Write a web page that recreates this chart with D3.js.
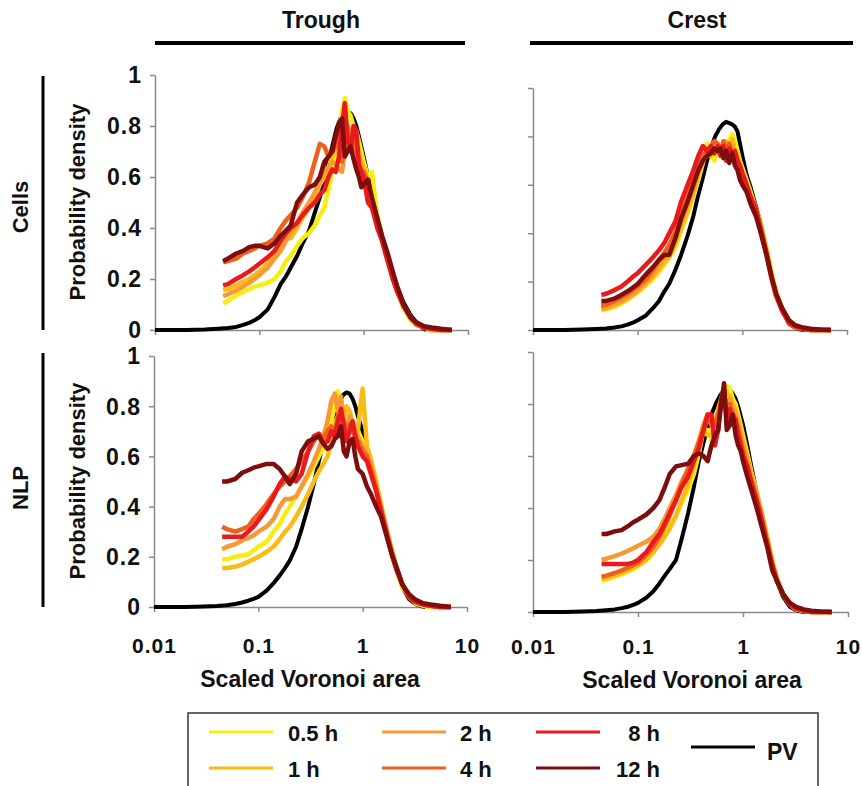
<!DOCTYPE html>
<html>
<head>
<meta charset="utf-8">
<script src="https://cdn.jsdelivr.net/npm/d3@7"></script>
<style>
  body { margin: 0; background: #fff; }
  text { font-family: "Liberation Sans", Arial, sans-serif; font-weight: bold; fill: #111; }
</style>
</head>
<body>
<div id="chart"></div>
<script>
// x positions shared by the six time series (scaled Voronoi area)
var xGrid = [0.045, 0.05, 0.06, 0.07, 0.08, 0.09, 0.1, 0.12, 0.14, 0.16, 0.18, 0.2, 0.23, 0.26, 0.3, 0.34, 0.38, 0.42, 0.46, 0.5,
  0.54, 0.58, 0.62, 0.66, 0.7, 0.75, 0.8, 0.85, 0.9, 0.95, 1.0, 1.1, 1.2, 1.35, 1.5, 1.7, 1.9, 2.1, 2.4, 2.8, 3.2, 3.8, 4.5, 5.5, 7.0];
// x positions of the PV (Poisson-Voronoi) reference curve
var pvGrid = [0.01, 0.02, 0.03, 0.04, 0.05, 0.06, 0.07, 0.08, 0.09, 0.1, 0.12, 0.14, 0.16, 0.18, 0.2, 0.23, 0.26, 0.3, 0.34, 0.38,
  0.42, 0.46, 0.5, 0.55, 0.6, 0.65, 0.7, 0.75, 0.8, 0.85, 0.9, 1.0, 1.1, 1.2, 1.35, 1.5, 1.7, 1.9, 2.1, 2.4, 2.8, 3.2, 3.6, 4.0];

// Trough / Cells
var tcPV = [0, 0, 0.002, 0.005, 0.008, 0.012, 0.02, 0.028, 0.038, 0.05, 0.08, 0.13, 0.18, 0.21, 0.245, 0.29, 0.34, 0.39, 0.46, 0.52, 0.59, 0.66, 0.72, 0.79, 0.83, 0.85, 0.855, 0.85, 0.83, 0.8, 0.76, 0.68, 0.6, 0.53, 0.44, 0.36, 0.28, 0.22, 0.17, 0.11, 0.06, 0.03, 0.01, 0];
var tc05 = [0.105, 0.115, 0.135, 0.15, 0.16, 0.17, 0.175, 0.185, 0.2, 0.23, 0.27, 0.29, 0.33, 0.36, 0.38, 0.41, 0.45, 0.48, 0.55, 0.62, 0.7, 0.78, 0.86, 0.91, 0.86, 0.84, 0.8, 0.78, 0.74, 0.7, 0.66, 0.6, 0.62, 0.45, 0.37, 0.28, 0.21, 0.15, 0.09, 0.04, 0.02, 0.01, 0, 0, 0];
var tc1 = [0.157, 0.16, 0.175, 0.19, 0.2, 0.215, 0.23, 0.26, 0.3, 0.33, 0.36, 0.36, 0.4, 0.44, 0.48, 0.52, 0.57, 0.6, 0.64, 0.68, 0.7, 0.74, 0.82, 0.85, 0.8, 0.78, 0.76, 0.74, 0.7, 0.66, 0.64, 0.58, 0.5, 0.42, 0.35, 0.27, 0.2, 0.15, 0.09, 0.05, 0.02, 0.01, 0, 0, 0];
var tc2 = [0.133, 0.14, 0.155, 0.17, 0.185, 0.2, 0.215, 0.245, 0.28, 0.31, 0.35, 0.38, 0.42, 0.46, 0.5, 0.54, 0.58, 0.62, 0.64, 0.66, 0.65, 0.63, 0.62, 0.7, 0.79, 0.74, 0.76, 0.72, 0.68, 0.64, 0.62, 0.56, 0.5, 0.42, 0.35, 0.27, 0.21, 0.15, 0.09, 0.05, 0.02, 0.01, 0, 0, 0];
var tc4 = [0.265, 0.27, 0.28, 0.3, 0.31, 0.32, 0.33, 0.34, 0.36, 0.4, 0.43, 0.45, 0.48, 0.52, 0.58, 0.66, 0.73, 0.72, 0.68, 0.7, 0.72, 0.78, 0.66, 0.75, 0.8, 0.7, 0.76, 0.7, 0.65, 0.6, 0.62, 0.58, 0.5, 0.43, 0.36, 0.28, 0.22, 0.16, 0.1, 0.05, 0.025, 0.01, 0.005, 0, 0];
var tc8 = [0.175, 0.18, 0.2, 0.215, 0.23, 0.245, 0.26, 0.285, 0.31, 0.35, 0.38, 0.4, 0.42, 0.45, 0.48, 0.5, 0.53, 0.55, 0.6, 0.63, 0.62, 0.68, 0.8, 0.89, 0.75, 0.7, 0.8, 0.78, 0.65, 0.62, 0.6, 0.5, 0.48, 0.4, 0.35, 0.27, 0.2, 0.15, 0.1, 0.05, 0.025, 0.01, 0.005, 0, 0];
var tc12 = [0.27, 0.28, 0.3, 0.31, 0.325, 0.33, 0.33, 0.32, 0.34, 0.37, 0.39, 0.41, 0.5, 0.53, 0.56, 0.57, 0.6, 0.66, 0.68, 0.7, 0.76, 0.81, 0.83, 0.68, 0.7, 0.72, 0.67, 0.63, 0.6, 0.56, 0.57, 0.59, 0.52, 0.44, 0.37, 0.3, 0.23, 0.17, 0.1, 0.05, 0.03, 0.015, 0.01, 0.005, 0];

// Crest / Cells
var ccPV = [0, 0, 0.002, 0.004, 0.006, 0.01, 0.015, 0.022, 0.03, 0.04, 0.06, 0.09, 0.12, 0.16, 0.19, 0.25, 0.31, 0.39, 0.47, 0.56, 0.63, 0.7, 0.75, 0.8, 0.83, 0.85, 0.86, 0.855, 0.85, 0.84, 0.82, 0.72, 0.64, 0.59, 0.51, 0.44, 0.33, 0.23, 0.15, 0.08, 0.025, 0.008, 0.002, 0];
var cc05 = [0.08, 0.085, 0.095, 0.11, 0.125, 0.14, 0.155, 0.185, 0.21, 0.24, 0.27, 0.3, 0.34, 0.41, 0.48, 0.55, 0.62, 0.69, 0.77, 0.72, 0.7, 0.74, 0.72, 0.75, 0.76, 0.78, 0.81, 0.78, 0.74, 0.7, 0.67, 0.62, 0.57, 0.5, 0.44, 0.34, 0.24, 0.16, 0.09, 0.04, 0.015, 0.005, 0, 0, 0];
var cc1 = [0.085, 0.09, 0.1, 0.115, 0.13, 0.145, 0.16, 0.19, 0.22, 0.25, 0.28, 0.3, 0.36, 0.42, 0.49, 0.56, 0.64, 0.7, 0.73, 0.72, 0.75, 0.74, 0.72, 0.76, 0.78, 0.76, 0.79, 0.74, 0.72, 0.68, 0.65, 0.6, 0.56, 0.5, 0.43, 0.33, 0.23, 0.15, 0.08, 0.03, 0.01, 0.005, 0, 0, 0];
var cc2 = [0.09, 0.095, 0.11, 0.12, 0.135, 0.15, 0.165, 0.2, 0.23, 0.27, 0.3, 0.33, 0.39, 0.45, 0.52, 0.58, 0.65, 0.7, 0.72, 0.74, 0.73, 0.76, 0.73, 0.75, 0.77, 0.74, 0.76, 0.72, 0.7, 0.66, 0.63, 0.59, 0.55, 0.49, 0.42, 0.32, 0.22, 0.14, 0.08, 0.03, 0.01, 0.005, 0, 0, 0];
var cc4 = [0.1, 0.105, 0.12, 0.135, 0.15, 0.165, 0.18, 0.21, 0.25, 0.29, 0.32, 0.35, 0.41, 0.48, 0.55, 0.62, 0.68, 0.72, 0.74, 0.76, 0.78, 0.77, 0.74, 0.78, 0.74, 0.77, 0.72, 0.7, 0.68, 0.64, 0.62, 0.58, 0.54, 0.48, 0.41, 0.31, 0.21, 0.14, 0.08, 0.03, 0.015, 0.005, 0, 0, 0];
var cc8 = [0.145, 0.15, 0.165, 0.18, 0.2, 0.22, 0.235, 0.27, 0.3, 0.33, 0.36, 0.4, 0.45, 0.53, 0.6, 0.66, 0.72, 0.76, 0.74, 0.76, 0.73, 0.76, 0.72, 0.76, 0.7, 0.75, 0.73, 0.74, 0.7, 0.68, 0.65, 0.6, 0.55, 0.5, 0.42, 0.32, 0.22, 0.15, 0.08, 0.03, 0.015, 0.005, 0, 0, 0];
var cc12 = [0.12, 0.12, 0.13, 0.145, 0.16, 0.175, 0.19, 0.23, 0.26, 0.29, 0.31, 0.31, 0.38, 0.46, 0.53, 0.6, 0.66, 0.7, 0.72, 0.73, 0.75, 0.74, 0.75, 0.71, 0.74, 0.69, 0.73, 0.68, 0.66, 0.62, 0.6, 0.57, 0.52, 0.47, 0.4, 0.31, 0.22, 0.15, 0.09, 0.04, 0.02, 0.01, 0.005, 0.002, 0];

// Trough / NLP
var tnPV = [0, 0, 0.002, 0.004, 0.007, 0.012, 0.018, 0.025, 0.032, 0.04, 0.065, 0.095, 0.125, 0.155, 0.185, 0.24, 0.31, 0.4, 0.49, 0.58, 0.65, 0.7, 0.74, 0.78, 0.82, 0.845, 0.855, 0.85, 0.83, 0.8, 0.76, 0.7, 0.63, 0.57, 0.47, 0.39, 0.3, 0.21, 0.15, 0.08, 0.03, 0.012, 0.004, 0];
var tn05 = [0.19, 0.19, 0.2, 0.205, 0.21, 0.225, 0.24, 0.26, 0.3, 0.33, 0.37, 0.4, 0.44, 0.48, 0.52, 0.56, 0.6, 0.63, 0.68, 0.74, 0.8, 0.86, 0.8, 0.78, 0.78, 0.76, 0.74, 0.72, 0.7, 0.68, 0.66, 0.62, 0.57, 0.48, 0.39, 0.3, 0.21, 0.15, 0.08, 0.04, 0.015, 0.005, 0, 0, 0];
var tn1 = [0.155, 0.155, 0.16, 0.17, 0.18, 0.19, 0.2, 0.22, 0.24, 0.27, 0.3, 0.32, 0.36, 0.4, 0.45, 0.5, 0.54, 0.57, 0.6, 0.65, 0.72, 0.76, 0.7, 0.75, 0.8, 0.78, 0.74, 0.72, 0.7, 0.8, 0.87, 0.64, 0.59, 0.5, 0.41, 0.31, 0.23, 0.16, 0.09, 0.04, 0.02, 0.01, 0.005, 0, 0];
var tn2 = [0.23, 0.24, 0.25, 0.265, 0.275, 0.285, 0.3, 0.32, 0.35, 0.4, 0.43, 0.43, 0.44, 0.48, 0.53, 0.58, 0.63, 0.68, 0.74, 0.82, 0.85, 0.78, 0.84, 0.74, 0.72, 0.76, 0.72, 0.7, 0.68, 0.66, 0.64, 0.61, 0.56, 0.47, 0.39, 0.3, 0.22, 0.16, 0.09, 0.04, 0.02, 0.01, 0.005, 0, 0];
var tn4 = [0.32, 0.31, 0.3, 0.31, 0.32, 0.35, 0.37, 0.41, 0.45, 0.48, 0.5, 0.52, 0.55, 0.58, 0.62, 0.66, 0.69, 0.67, 0.7, 0.72, 0.69, 0.76, 0.7, 0.74, 0.7, 0.73, 0.7, 0.68, 0.66, 0.64, 0.62, 0.6, 0.55, 0.47, 0.39, 0.3, 0.22, 0.16, 0.09, 0.04, 0.02, 0.01, 0.005, 0, 0];
var tn8 = [0.28, 0.28, 0.28, 0.28, 0.3, 0.32, 0.345, 0.39, 0.44, 0.49, 0.52, 0.51, 0.5, 0.53, 0.62, 0.68, 0.69, 0.65, 0.66, 0.7, 0.68, 0.74, 0.79, 0.72, 0.66, 0.7, 0.74, 0.68, 0.64, 0.62, 0.6, 0.58, 0.53, 0.46, 0.38, 0.29, 0.21, 0.15, 0.09, 0.04, 0.02, 0.01, 0.005, 0, 0];
var tn12 = [0.5, 0.5, 0.51, 0.535, 0.545, 0.555, 0.56, 0.57, 0.57, 0.55, 0.52, 0.49, 0.53, 0.62, 0.66, 0.67, 0.68, 0.65, 0.63, 0.64, 0.67, 0.68, 0.72, 0.62, 0.6, 0.66, 0.67, 0.6, 0.55, 0.54, 0.53, 0.48, 0.45, 0.4, 0.36, 0.28, 0.21, 0.16, 0.09, 0.05, 0.03, 0.015, 0.01, 0.005, 0];

// Crest / NLP
var cnPV = [0, 0, 0.002, 0.004, 0.007, 0.01, 0.015, 0.02, 0.027, 0.035, 0.055, 0.08, 0.11, 0.14, 0.165, 0.2, 0.28, 0.38, 0.48, 0.58, 0.65, 0.71, 0.76, 0.8, 0.83, 0.85, 0.86, 0.855, 0.84, 0.82, 0.79, 0.72, 0.64, 0.56, 0.46, 0.38, 0.28, 0.19, 0.12, 0.06, 0.02, 0.007, 0.002, 0];
var cn05 = [0.12, 0.125, 0.135, 0.145, 0.155, 0.165, 0.175, 0.2, 0.23, 0.27, 0.3, 0.33, 0.37, 0.42, 0.47, 0.53, 0.61, 0.7, 0.7, 0.66, 0.7, 0.76, 0.8, 0.84, 0.87, 0.86, 0.82, 0.8, 0.76, 0.72, 0.68, 0.61, 0.54, 0.46, 0.39, 0.29, 0.2, 0.13, 0.07, 0.03, 0.01, 0.005, 0, 0, 0];
var cn1 = [0.128, 0.13, 0.14, 0.15, 0.16, 0.17, 0.18, 0.2, 0.23, 0.26, 0.29, 0.32, 0.37, 0.43, 0.49, 0.56, 0.64, 0.7, 0.68, 0.68, 0.73, 0.78, 0.82, 0.86, 0.84, 0.83, 0.8, 0.78, 0.74, 0.7, 0.66, 0.6, 0.53, 0.46, 0.38, 0.28, 0.19, 0.13, 0.07, 0.03, 0.01, 0.005, 0, 0, 0];
var cn2 = [0.2, 0.205, 0.215, 0.225, 0.235, 0.245, 0.255, 0.27, 0.29, 0.32, 0.36, 0.4, 0.45, 0.5, 0.55, 0.6, 0.66, 0.72, 0.76, 0.72, 0.7, 0.74, 0.8, 0.83, 0.8, 0.82, 0.78, 0.76, 0.72, 0.68, 0.64, 0.58, 0.52, 0.45, 0.38, 0.28, 0.19, 0.13, 0.07, 0.03, 0.01, 0.005, 0, 0, 0];
var cn4 = [0.135, 0.14, 0.15, 0.16, 0.17, 0.18, 0.19, 0.22, 0.25, 0.29, 0.33, 0.37, 0.43, 0.49, 0.55, 0.6, 0.65, 0.7, 0.74, 0.73, 0.72, 0.76, 0.8, 0.84, 0.78, 0.8, 0.76, 0.74, 0.7, 0.66, 0.62, 0.56, 0.5, 0.43, 0.36, 0.27, 0.18, 0.12, 0.07, 0.03, 0.01, 0.005, 0, 0, 0];
var cn8 = [0.185, 0.185, 0.185, 0.185, 0.185, 0.19, 0.2, 0.23, 0.27, 0.3, 0.34, 0.38, 0.43, 0.48, 0.52, 0.58, 0.63, 0.7, 0.76, 0.76, 0.64, 0.7, 0.82, 0.85, 0.74, 0.78, 0.72, 0.74, 0.68, 0.64, 0.6, 0.56, 0.5, 0.43, 0.36, 0.26, 0.18, 0.12, 0.07, 0.03, 0.015, 0.005, 0, 0, 0];
var cn12 = [0.3, 0.3, 0.31, 0.315, 0.33, 0.345, 0.355, 0.375, 0.4, 0.43, 0.48, 0.53, 0.56, 0.565, 0.57, 0.6, 0.61, 0.6, 0.58, 0.64, 0.68, 0.7, 0.8, 0.88, 0.7, 0.72, 0.76, 0.68, 0.64, 0.62, 0.58, 0.52, 0.47, 0.4, 0.33, 0.25, 0.16, 0.12, 0.07, 0.035, 0.02, 0.01, 0.005, 0.002, 0];

var seriesLabels = ["0.5 h", "1 h", "2 h", "4 h", "8 h", "12 h"];
var pvLabel = "PV";
var colTitles = ["Trough", "Crest"];
var rowTitles = ["Cells", "NLP"];
var xTicks = [0.01, 0.1, 1, 10];
var xTickLabels = ["0.01", "0.1", "1", "10"];
var yTicks = [0, 0.2, 0.4, 0.6, 0.8, 1];
var yTickLabels = ["0", "0.2", "0.4", "0.6", "0.8", "1"];
var xTitle = "Scaled Voronoi area";
var yTitle = "Probability density";

var colors = ["#f6ee12", "#f8bc14", "#f59a34", "#ee6020", "#ea1a1c", "#7e0e0e"];

var svg = d3.select("#chart").append("svg")
  .attr("width", 862)
  .attr("height", 786);

// panel boxes (pixels)
var panels = [
  { pv: tcPV, s: [tc05, tc1, tc2, tc4, tc8, tc12], x0: 155, x1: 468, y0: 330, y1: 75, yLab: true, xLab: false },
  { pv: ccPV, s: [cc05, cc1, cc2, cc4, cc8, cc12], x0: 533, x1: 847, y0: 330, y1: 88, yLab: false, xLab: false },
  { pv: tnPV, s: [tn05, tn1, tn2, tn4, tn8, tn12], x0: 154, x1: 467, y0: 607, y1: 356, yLab: true, xLab: true, labBase: 653 },
  { pv: cnPV, s: [cn05, cn1, cn2, cn4, cn8, cn12], x0: 533, x1: 848, y0: 612, y1: 352, yLab: false, xLab: true, labBase: 654 }
];

function pairs(xs, ys) {
  return xs.map(function(x, i) { return [x, ys[i]]; }).filter(function(d) { return d[1] != null; });
}

panels.forEach(function(p) {
  var x = d3.scaleLog().domain([0.01, 10]).range([p.x0, p.x1]);
  var y = d3.scaleLinear().domain([0, 1]).range([p.y0, p.y1]);

  var g = svg.append("g");

  var yAxis = d3.axisLeft(y)
    .tickValues(yTicks)
    .tickSize(5)
    .tickSizeOuter(0)
    .tickPadding(8)
    .tickFormat(function(d, i) { return p.yLab ? yTickLabels[i] : ""; });

  var xAxis = d3.axisBottom(x)
    .tickValues(xTicks)
    .tickSize(5)
    .tickSizeOuter(0)
    .tickFormat(function(d, i) { return p.xLab ? xTickLabels[i] : ""; });

  var ya = g.append("g")
    .attr("transform", `translate(${p.x0},0)`)
    .call(yAxis);
  ya.selectAll("text")
    .attr("font-size", 23)
    .attr("letter-spacing", 1)
    .attr("dy", "0.34em");

  var xa = g.append("g")
    .attr("transform", `translate(0,${p.y0})`)
    .call(xAxis);
  if (p.xLab) {
    xa.selectAll("text")
      .attr("font-size", 21)
      .attr("letter-spacing", 1)
      .attr("dy", 0)
      .attr("y", p.labBase - p.y0);
  }

  g.selectAll(".domain, .tick line")
    .attr("stroke", "#8a8a8a")
    .attr("stroke-width", 1.5);
  g.selectAll(".tick text").attr("fill", "#111");
  g.selectAll("g").attr("font-family", null);

  var line = d3.line()
    .x(function(d) { return x(d[0]); })
    .y(function(d) { return y(d[1]); });

  g.append("path")
    .datum(pairs(pvGrid, p.pv))
    .attr("d", line)
    .attr("fill", "none")
    .attr("stroke", "#000")
    .attr("stroke-width", 4)
    .attr("stroke-linejoin", "round");

  p.s.forEach(function(ser, i) {
    g.append("path")
      .datum(pairs(xGrid, ser))
      .attr("d", line)
      .attr("fill", "none")
      .attr("stroke", colors[i])
      .attr("stroke-width", 4.5)
      .attr("stroke-linejoin", "round");
  });
});

// column headings with bars
var heads = [{ cx: 321, a: 155, b: 465 }, { cx: 697, a: 530, b: 853 }];
heads.forEach(function(h, i) {
  svg.append("text")
    .attr("x", h.cx).attr("y", 28)
    .attr("text-anchor", "middle")
    .attr("font-size", 23)
    .text(colTitles[i]);
  svg.append("line")
    .attr("x1", h.a).attr("x2", h.b)
    .attr("y1", 43).attr("y2", 43)
    .attr("stroke", "#000").attr("stroke-width", 4);
});

// row headings with vertical bars + y titles
var rows = [{ cy: 207, a: 76, b: 330, ty: 202 }, { cy: 488, a: 353, b: 607, ty: 481 }];
rows.forEach(function(r, i) {
  svg.append("text")
    .attr("transform", `translate(28,${r.cy}) rotate(-90)`)
    .attr("text-anchor", "middle")
    .attr("font-size", 22)
    .text(rowTitles[i]);
  svg.append("line")
    .attr("x1", 43).attr("x2", 43)
    .attr("y1", r.a).attr("y2", r.b)
    .attr("stroke", "#000").attr("stroke-width", 3);
  svg.append("text")
    .attr("transform", `translate(85,${r.ty}) rotate(-90)`)
    .attr("text-anchor", "middle")
    .attr("font-size", 22)
    .text(yTitle);
});

// x titles
[{ cx: 310, y: 687 }, { cx: 692, y: 688 }].forEach(function(t) {
  svg.append("text")
    .attr("x", t.cx).attr("y", t.y)
    .attr("text-anchor", "middle")
    .attr("font-size", 23)
    .text(xTitle);
});

// legend
var legend = svg.append("g");
legend.append("rect")
  .attr("x", 188).attr("y", 713)
  .attr("width", 630).attr("height", 100)
  .attr("fill", "none")
  .attr("stroke", "#333")
  .attr("stroke-width", 1.5);

var colLineX = [209, 382, 536];
var rowLineY = [732, 768];
var rowTextY = [741, 777];
var colText = [{ x: 288, a: "start" }, { x: 460, a: "start" }, { x: 660, a: "end" }];

seriesLabels.forEach(function(lab, i) {
  var c = Math.floor(i / 2), r = i % 2;
  legend.append("line")
    .attr("x1", colLineX[c]).attr("x2", colLineX[c] + 64)
    .attr("y1", rowLineY[r]).attr("y2", rowLineY[r])
    .attr("stroke", colors[i]).attr("stroke-width", 3);
  legend.append("text")
    .attr("x", colText[c].x).attr("y", rowTextY[r])
    .attr("text-anchor", colText[c].a)
    .attr("font-size", 22)
    .text(lab);
});

legend.append("line")
  .attr("x1", 691).attr("x2", 755)
  .attr("y1", 747).attr("y2", 747)
  .attr("stroke", "#000").attr("stroke-width", 3);
legend.append("text")
  .attr("x", 767).attr("y", 760)
  .attr("font-size", 23)
  .text(pvLabel);
</script>
</body>
</html>
